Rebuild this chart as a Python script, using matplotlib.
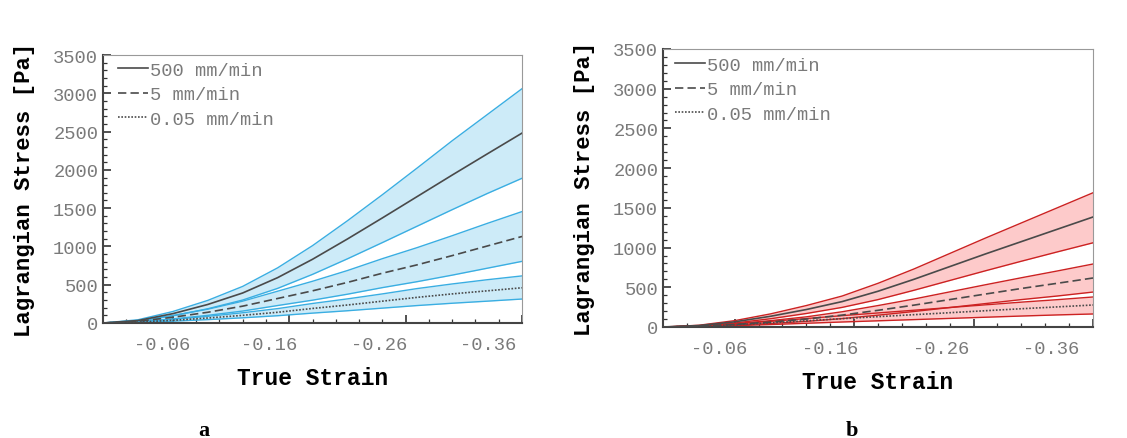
import numpy as np
import matplotlib.pyplot as plt
from matplotlib.ticker import MultipleLocator, FixedLocator
from matplotlib.transforms import ScaledTranslation

# strain (compression, so negative)
strain = [0, -0.03, -0.06, -0.09, -0.12, -0.15, -0.18, -0.21, -0.24, -0.27, -0.30, -0.33, -0.36]
xticks = [-0.06, -0.16, -0.26, -0.36]
xticklabels = ["-0.06", "-0.16", "-0.26", "-0.36"]
yticks = [0, 500, 1000, 1500, 2000, 2500, 3000, 3500]
rates = ["500 mm/min", "5 mm/min", "0.05 mm/min"]

# panel a (blue): mean, upper, lower for each rate
a_500_mean = [0, 32, 122, 242, 392, 592, 832, 1097, 1372, 1652, 1932, 2207, 2480]
a_500_up   = [0, 42, 150, 295, 478, 720, 1010, 1335, 1675, 2025, 2380, 2720, 3060]
a_500_lo   = [0, 25, 94, 186, 300, 452, 635, 838, 1050, 1265, 1480, 1690, 1890]
a_5_mean   = [0, 22, 75, 140, 220, 320, 420, 530, 650, 760, 880, 1005, 1130]
a_5_up     = [0, 28, 97, 180, 285, 415, 545, 685, 840, 985, 1140, 1300, 1455]
a_5_lo     = [0, 16, 53, 100, 156, 228, 298, 376, 462, 540, 625, 715, 805]
a_005_mean = [0, 12, 35, 65, 100, 140, 190, 235, 285, 335, 380, 420, 460]
a_005_up   = [0, 16, 47, 87, 134, 188, 255, 315, 380, 450, 510, 565, 615]
a_005_lo   = [0, 8, 24, 44, 68, 95, 129, 160, 194, 228, 258, 285, 313]

# panel b (red)
b_500_mean = [0, 18, 65, 135, 220, 320, 450, 600, 760, 920, 1075, 1230, 1385]
b_500_up   = [0, 22, 80, 165, 270, 390, 550, 730, 925, 1120, 1310, 1500, 1690]
b_500_lo   = [0, 14, 50, 104, 170, 247, 345, 462, 585, 708, 828, 945, 1060]
b_5_mean   = [0, 10, 32, 62, 100, 150, 210, 275, 345, 415, 485, 550, 617]
b_5_up     = [0, 13, 41, 80, 128, 192, 270, 352, 442, 532, 620, 705, 793]
b_5_lo     = [0, 7, 23, 44, 71, 106, 149, 195, 245, 295, 345, 390, 440]
b_005_mean = [0, 9, 28, 52, 78, 105, 130, 155, 180, 205, 230, 253, 277]
b_005_up   = [0, 12, 38, 71, 106, 143, 177, 211, 245, 279, 313, 344, 378]
b_005_lo   = [0, 5, 17, 31, 47, 63, 78, 93, 108, 123, 138, 152, 164]

mono = "Liberation Mono"
grey = "#7a7a7a"
styles = ["-", (0, (5, 2.5)), (0, (1, 1))]


def panel(ax, bands, fill, edge, label_shift, leg_anchor):
    x = np.array(strain)
    for (mean, up, lo), ls, name in zip(bands, styles, rates):
        ax.fill_between(x, lo, up, color=fill, lw=0, zorder=1)
        ax.plot(x, up, color=edge, lw=1.0, zorder=2)
        ax.plot(x, lo, color=edge, lw=1.0, zorder=2)
        ax.plot(x, mean, color="#4a4a4a", lw=1.2, ls=ls, zorder=3, label=name)

    ax.set_xlim(0, -0.36)
    ax.set_ylim(0, 3500)
    ax.xaxis.set_major_locator(FixedLocator(xticks))
    ax.xaxis.set_minor_locator(FixedLocator(np.arange(-0.02, -0.37, -0.02)))
    ax.yaxis.set_major_locator(FixedLocator(yticks))
    ax.yaxis.set_minor_locator(MultipleLocator(100))
    ax.set_xticklabels(xticklabels)
    ax.tick_params(which="both", direction="in", top=False, right=False,
                   labelsize=13.5, labelcolor=grey, colors="#333333")
    ax.tick_params(which="major", length=6, width=1.2)
    ax.tick_params(which="minor", length=3, width=0.9)
    ax.tick_params(axis="x", pad=9.5)
    for t in ax.get_xticklabels() + ax.get_yticklabels():
        t.set_family(mono)
    # the original's strain labels sit a little left of their ticks
    for t, dx in zip(ax.get_xticklabels(), label_shift):
        t.set_transform(t.get_transform() + ScaledTranslation(dx / 100, 0, fig.dpi_scale_trans))
    for side in ["top", "right"]:
        ax.spines[side].set_color("#999999")
    for side in ["left", "bottom"]:
        ax.spines[side].set_color("#444444")
        ax.spines[side].set_linewidth(1.5)

    ax.set_xlabel("True Strain", family=mono, weight="bold", fontsize=16.5, labelpad=9)
    ax.set_ylabel("Lagrangian Stress [Pa]", family=mono, weight="bold", fontsize=16, labelpad=13)
    leg = ax.legend(loc="upper left", bbox_to_anchor=leg_anchor, frameon=False,
                    handlelength=1.6, handletextpad=0.08, labelspacing=0.4,
                    borderaxespad=0, borderpad=0, prop={"family": mono, "size": 13.5})
    for t in leg.get_texts():
        t.set_color(grey)


fig = plt.figure(figsize=(11.27, 4.39), dpi=100)
ax1 = fig.add_axes([103 / 1127, 115 / 439, 419 / 1127, 268 / 439])
ax2 = fig.add_axes([663 / 1127, 111 / 439, 430 / 1127, 278 / 439])

panel(ax1, [(a_500_mean, a_500_up, a_500_lo), (a_5_mean, a_5_up, a_5_lo),
            (a_005_mean, a_005_up, a_005_lo)], "#cdebf8", "#3aaee2",
      [-11, -20, -26, -34], (0.036, 0.976))
panel(ax2, [(b_500_mean, b_500_up, b_500_lo), (b_5_mean, b_5_up, b_5_lo),
            (b_005_mean, b_005_up, b_005_lo)], "#fdcaca", "#cc2222",
      [-16, -24, -32, -42], (0.028, 0.973))

fig.text(204 / 1127, 1 - 431 / 439, "a", family="Liberation Serif", weight="bold",
         fontsize=16, ha="center", va="center")
fig.text(852 / 1127, 1 - 431 / 439, "b", family="Liberation Serif", weight="bold",
         fontsize=16, ha="center", va="center")

fig.savefig("out.png", dpi=100)
